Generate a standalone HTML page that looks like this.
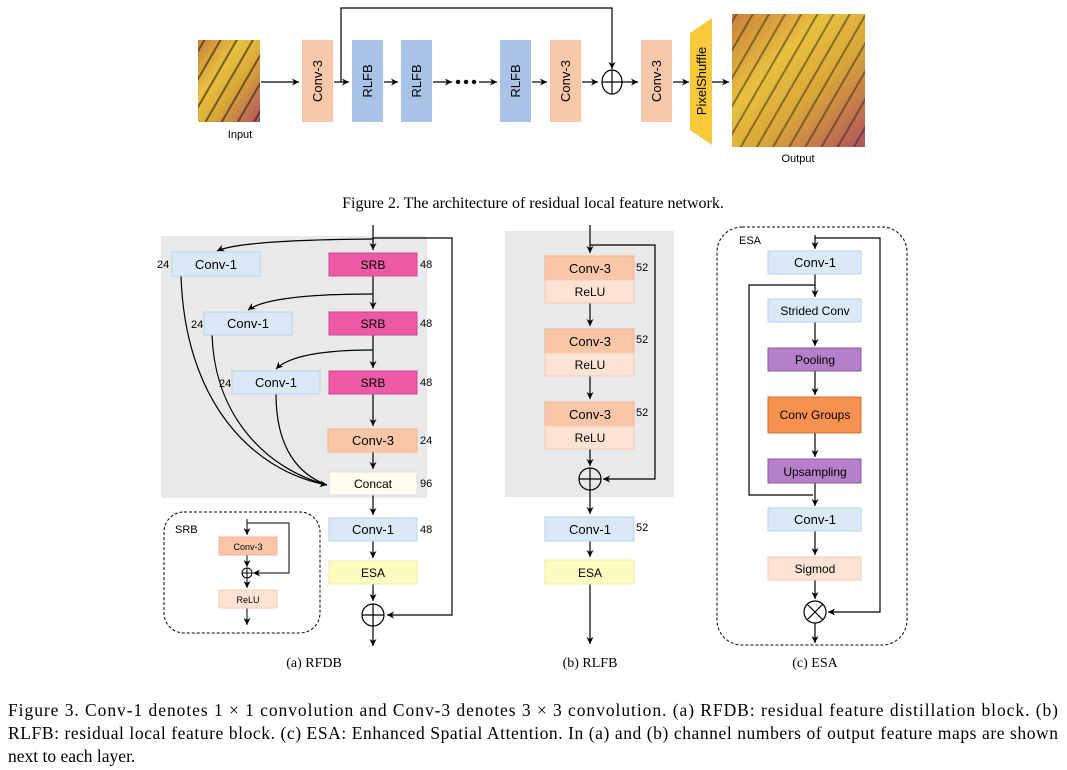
<!DOCTYPE html>
<html><head><meta charset="utf-8"><style>
html,body{margin:0;padding:0;background:#fff;}
svg{display:block;font-family:"Liberation Sans",sans-serif;}
.r{font-family:"Liberation Serif",serif;}
</style></head><body>
<svg width="1067" height="770" viewBox="0 0 1067 770" xmlns="http://www.w3.org/2000/svg">
<defs>
<marker id="a" markerWidth="8" markerHeight="8" refX="7" refY="4" orient="auto" markerUnits="userSpaceOnUse"><path d="M0,0.5 L7,4 L0,7.5 L2,4z" fill="#000"/></marker>
<linearGradient id="bf" x1="0" y1="0" x2="1" y2="1"><stop offset="0" stop-color="#c8803a"/><stop offset="0.35" stop-color="#e8c040"/><stop offset="0.6" stop-color="#d8a838"/><stop offset="1" stop-color="#b05060"/></linearGradient>
<pattern id="vein" width="14" height="14" patternUnits="userSpaceOnUse" patternTransform="rotate(30)"><rect width="2" height="14" fill="#2a1a10" opacity="0.6"/></pattern>
</defs>
<g font-size="12" fill="#000">
<rect x="198" y="40" width="62" height="82" fill="url(#bf)"/>
<rect x="198" y="40" width="62" height="82" fill="url(#vein)"/>
<text x="240" y="138" text-anchor="middle" font-size="11">Input</text>
<rect x="732" y="14" width="133" height="133" fill="url(#bf)"/>
<rect x="732" y="14" width="133" height="133" fill="url(#vein)" opacity="0.8"/>
<text x="798" y="162" text-anchor="middle" font-size="11">Output</text>
<g stroke="#000" stroke-width="1.2" fill="none">
<line x1="261" y1="82" x2="299" y2="82" marker-end="url(#a)"/>
<line x1="334" y1="82" x2="349" y2="82" marker-end="url(#a)"/>
<line x1="384" y1="82" x2="398" y2="82" marker-end="url(#a)"/>
<line x1="433" y1="82" x2="452" y2="82" marker-end="url(#a)"/>
<line x1="479" y1="82" x2="497" y2="82" marker-end="url(#a)"/>
<line x1="532" y1="82" x2="547" y2="82" marker-end="url(#a)"/>
<line x1="582" y1="82" x2="598" y2="82" marker-end="url(#a)"/>
<line x1="621" y1="82" x2="638" y2="82" marker-end="url(#a)"/>
<line x1="673" y1="82" x2="689" y2="82" marker-end="url(#a)"/>
<line x1="712" y1="82" x2="729" y2="82" marker-end="url(#a)"/>
<polyline points="341,82 341,8 612,8 612,69" marker-end="url(#a)"/>
<ellipse cx="612" cy="82" rx="10" ry="12"/>
<line x1="602" y1="82" x2="622" y2="82"/><line x1="612" y1="70" x2="612" y2="94"/>
</g>
<circle cx="458" cy="82" r="2.2"/><circle cx="466" cy="82" r="2.2"/><circle cx="474" cy="82" r="2.2"/>
<rect x="302" y="40" width="31" height="82" fill="#f8c8aa"/>
<rect x="352" y="40" width="31" height="82" fill="#a9c3e6"/>
<rect x="401" y="40" width="31" height="82" fill="#a9c3e6"/>
<rect x="500" y="40" width="31" height="82" fill="#a9c3e6"/>
<rect x="550" y="40" width="31" height="82" fill="#f8c8aa"/>
<rect x="641" y="40" width="31" height="82" fill="#f8c8aa"/>
<polygon points="712,18 712,145 690,130 690,33" fill="#f9c93c"/>
<g font-size="13">
<text transform="translate(322,81) rotate(-90)" text-anchor="middle">Conv-3</text>
<text transform="translate(372,81) rotate(-90)" text-anchor="middle">RLFB</text>
<text transform="translate(421,81) rotate(-90)" text-anchor="middle">RLFB</text>
<text transform="translate(520,81) rotate(-90)" text-anchor="middle">RLFB</text>
<text transform="translate(570,81) rotate(-90)" text-anchor="middle">Conv-3</text>
<text transform="translate(661,81) rotate(-90)" text-anchor="middle">Conv-3</text>
<text transform="translate(706,81) rotate(-90)" text-anchor="middle">PixelShuffle</text>
</g>
</g>
<text class="r" x="533" y="208" text-anchor="middle" font-size="16">Figure 2. The architecture of residual local feature network.</text>

<rect x="161" y="236" width="266" height="262" fill="#e9e9e9"/>
<g stroke="#000" stroke-width="1.2" fill="none">
<line x1="373" y1="225" x2="373" y2="250" marker-end="url(#a)"/>
<line x1="373" y1="276" x2="373" y2="309" marker-end="url(#a)"/>
<line x1="373" y1="335" x2="373" y2="368" marker-end="url(#a)"/>
<line x1="373" y1="394" x2="373" y2="426" marker-end="url(#a)"/>
<line x1="373" y1="452" x2="373" y2="469" marker-end="url(#a)"/>
<line x1="373" y1="495" x2="373" y2="515" marker-end="url(#a)"/>
<line x1="373" y1="541" x2="373" y2="558" marker-end="url(#a)"/>
<line x1="373" y1="584" x2="373" y2="601" marker-end="url(#a)"/>
<line x1="373" y1="626" x2="373" y2="646" marker-end="url(#a)"/>
<polyline points="373,238 452,238 452,615 387,615" marker-end="url(#a)"/>
<circle cx="373" cy="615" r="11"/><line x1="362" y1="615" x2="384" y2="615"/><line x1="373" y1="604" x2="373" y2="626"/>
<path d="M373,239 Q240,240 217,251" marker-end="url(#a)"/>
<path d="M373,294 Q270,294 248,310" marker-end="url(#a)"/>
<path d="M373,350 Q295,350 276,369" marker-end="url(#a)"/>
<path d="M181,276 C185,400 250,470 327,485" marker-end="url(#a)"/>
<path d="M212,335 C215,420 270,470 327,485"/>
<path d="M276,394 C276,450 300,475 327,485"/>
</g>
<g font-size="13">
<rect x="172" y="252" width="88" height="24" fill="#dbe9f7" stroke="#b9d3ee"/><text x="216" y="269" text-anchor="middle">Conv-1</text>
<rect x="204" y="312" width="88" height="23" fill="#dbe9f7" stroke="#b9d3ee"/><text x="248" y="328" text-anchor="middle">Conv-1</text>
<rect x="232" y="371" width="88" height="23" fill="#dbe9f7" stroke="#b9d3ee"/><text x="276" y="387" text-anchor="middle">Conv-1</text>
<rect x="329" y="253" width="88" height="23" fill="#ec5aa6" stroke="#d04890"/><text x="373" y="269" text-anchor="middle" font-size="12">SRB</text>
<rect x="329" y="312" width="88" height="23" fill="#ec5aa6" stroke="#d04890"/><text x="373" y="328" text-anchor="middle" font-size="12">SRB</text>
<rect x="329" y="371" width="88" height="23" fill="#ec5aa6" stroke="#d04890"/><text x="373" y="387" text-anchor="middle" font-size="12">SRB</text>
<rect x="328" y="429" width="89" height="23" fill="#f9c7a8" stroke="#f0b490"/><text x="373" y="445" text-anchor="middle">Conv-3</text>
<rect x="329" y="472" width="88" height="23" fill="#fefdf0" stroke="#ddd"/><text x="373" y="488" text-anchor="middle" font-size="12">Concat</text>
<rect x="329" y="518" width="88" height="23" fill="#dbe9f7" stroke="#b9d3ee"/><text x="373" y="534" text-anchor="middle">Conv-1</text>
<rect x="329" y="561" width="88" height="23" fill="#fdfbc0" stroke="#f0eca0"/><text x="373" y="577" text-anchor="middle" font-size="12">ESA</text>
</g>
<g font-size="11">
<text x="157" y="268">24</text><text x="191" y="328">24</text><text x="219" y="387">24</text>
<text x="420" y="268">48</text><text x="420" y="327">48</text><text x="420" y="386">48</text>
<text x="420" y="444">24</text><text x="420" y="487">96</text><text x="420" y="533">48</text>
</g>
<rect x="164" y="512" width="156" height="121" rx="20" fill="none" stroke="#000" stroke-dasharray="3,2"/>
<text x="175" y="533" font-size="11">SRB</text>
<g stroke="#000" stroke-width="1" fill="none">
<line x1="247" y1="519" x2="247" y2="535" marker-end="url(#a)"/>
<polyline points="247,523 289,523 289,573 253,573" marker-end="url(#a)"/>
<line x1="247" y1="555" x2="247" y2="567" marker-end="url(#a)"/>
<circle cx="247" cy="573" r="5"/><line x1="242" y1="573" x2="252" y2="573"/><line x1="247" y1="568" x2="247" y2="588" marker-end="url(#a)"/>
<line x1="247" y1="608" x2="247" y2="625" marker-end="url(#a)"/>
</g>
<rect x="219" y="537" width="58" height="18" fill="#f9c7a8" stroke="#f0b490"/><text x="248" y="550" text-anchor="middle" font-size="9">Conv-3</text>
<rect x="219" y="590" width="58" height="18" fill="#fde3d3" stroke="#f4cbb4"/><text x="248" y="603" text-anchor="middle" font-size="9">ReLU</text>

<rect x="505" y="231" width="169" height="266" fill="#e9e9e9"/>
<g stroke="#000" stroke-width="1.2" fill="none">
<line x1="590" y1="225" x2="590" y2="253" marker-end="url(#a)"/>
<polyline points="590,245 655,245 655,479 603,479" marker-end="url(#a)"/>
<line x1="590" y1="303" x2="590" y2="326" marker-end="url(#a)"/>
<line x1="590" y1="376" x2="590" y2="399" marker-end="url(#a)"/>
<line x1="590" y1="449" x2="590" y2="466" marker-end="url(#a)"/>
<circle cx="590" cy="479" r="11"/><line x1="579" y1="479" x2="601" y2="479"/><line x1="590" y1="468" x2="590" y2="490"/>
<line x1="590" y1="490" x2="590" y2="514" marker-end="url(#a)"/>
<line x1="590" y1="541" x2="590" y2="557" marker-end="url(#a)"/>
<line x1="590" y1="584" x2="590" y2="644" marker-end="url(#a)"/>
</g>
<g font-size="13">
<rect x="545" y="256" width="89" height="24" fill="#f9c7a8" stroke="#f0b490"/><text x="590" y="273" text-anchor="middle">Conv-3</text>
<rect x="545" y="280" width="89" height="23" fill="#fde3d3" stroke="#f4cbb4"/><text x="590" y="296" text-anchor="middle" font-size="12">ReLU</text>
<rect x="545" y="329" width="89" height="24" fill="#f9c7a8" stroke="#f0b490"/><text x="590" y="346" text-anchor="middle">Conv-3</text>
<rect x="545" y="353" width="89" height="23" fill="#fde3d3" stroke="#f4cbb4"/><text x="590" y="369" text-anchor="middle" font-size="12">ReLU</text>
<rect x="545" y="402" width="89" height="24" fill="#f9c7a8" stroke="#f0b490"/><text x="590" y="419" text-anchor="middle">Conv-3</text>
<rect x="545" y="426" width="89" height="23" fill="#fde3d3" stroke="#f4cbb4"/><text x="590" y="442" text-anchor="middle" font-size="12">ReLU</text>
<rect x="545" y="517" width="89" height="24" fill="#dbe9f7" stroke="#b9d3ee"/><text x="590" y="534" text-anchor="middle">Conv-1</text>
<rect x="545" y="560" width="89" height="24" fill="#fdfbc0" stroke="#f0eca0"/><text x="590" y="577" text-anchor="middle" font-size="12">ESA</text>
</g>
<g font-size="11"><text x="636" y="271">52</text><text x="636" y="343">52</text><text x="636" y="416">52</text><text x="636" y="531">52</text></g>

<rect x="717" y="227" width="190" height="418" rx="25" fill="none" stroke="#000" stroke-dasharray="3,2"/>
<text x="739" y="244" font-size="11">ESA</text>
<g stroke="#000" stroke-width="1.2" fill="none">
<line x1="815" y1="235" x2="815" y2="249" marker-end="url(#a)"/>
<polyline points="815,238 880,238 880,612 828,612" marker-end="url(#a)"/>
<line x1="815" y1="274" x2="815" y2="297" marker-end="url(#a)"/>
<polyline points="815,285 749,285 749,495 813,495"/>
<line x1="815" y1="322" x2="815" y2="346" marker-end="url(#a)"/>
<line x1="815" y1="371" x2="815" y2="395" marker-end="url(#a)"/>
<line x1="815" y1="433" x2="815" y2="457" marker-end="url(#a)"/>
<line x1="815" y1="483" x2="815" y2="506" marker-end="url(#a)"/>
<line x1="815" y1="531" x2="815" y2="555" marker-end="url(#a)"/>
<line x1="815" y1="580" x2="815" y2="599" marker-end="url(#a)"/>
<circle cx="815" cy="612" r="11"/><line x1="807" y1="604" x2="823" y2="620"/><line x1="823" y1="604" x2="807" y2="620"/>
<line x1="815" y1="623" x2="815" y2="643" marker-end="url(#a)"/>
</g>
<g font-size="13">
<rect x="768" y="251" width="93" height="23" fill="#dbe9f7" stroke="#b9d3ee"/><text x="815" y="267" text-anchor="middle">Conv-1</text>
<rect x="768" y="299" width="93" height="23" fill="#dbe9f7" stroke="#b9d3ee"/><text x="815" y="315" text-anchor="middle" font-size="12">Strided Conv</text>
<rect x="768" y="348" width="93" height="23" fill="#b57fc9" stroke="#8a58a0"/><text x="815" y="364" text-anchor="middle" font-size="12">Pooling</text>
<rect x="768" y="397" width="93" height="36" fill="#f6914f" stroke="#d0703a"/><text x="815" y="419" text-anchor="middle" font-size="12">Conv Groups</text>
<rect x="768" y="459" width="93" height="24" fill="#b57fc9" stroke="#8a58a0"/><text x="815" y="476" text-anchor="middle" font-size="12">Upsampling</text>
<rect x="768" y="508" width="93" height="23" fill="#dbe9f7" stroke="#b9d3ee"/><text x="815" y="524" text-anchor="middle">Conv-1</text>
<rect x="768" y="557" width="93" height="23" fill="#fde3d3" stroke="#f4cbb4"/><text x="815" y="573" text-anchor="middle" font-size="12">Sigmod</text>
</g>

<g class="r" font-size="14">
<text x="314" y="667" text-anchor="middle">(a) RFDB</text>
<text x="590" y="667" text-anchor="middle">(b) RLFB</text>
<text x="815" y="667" text-anchor="middle">(c) ESA</text>
</g>
<g class="r" font-size="17.5">
<text x="8" y="716" textLength="1050" lengthAdjust="spacing">Figure 3.  Conv-1 denotes 1 × 1 convolution and Conv-3 denotes 3 × 3 convolution. (a) RFDB: residual feature distillation block. (b)</text>
<text x="8" y="739" textLength="1050" lengthAdjust="spacing">RLFB: residual local feature block. (c) ESA: Enhanced Spatial Attention. In (a) and (b) channel numbers of output feature maps are shown</text>
<text x="8" y="762">next to each layer.</text>
</g>
</svg>
</body></html>
